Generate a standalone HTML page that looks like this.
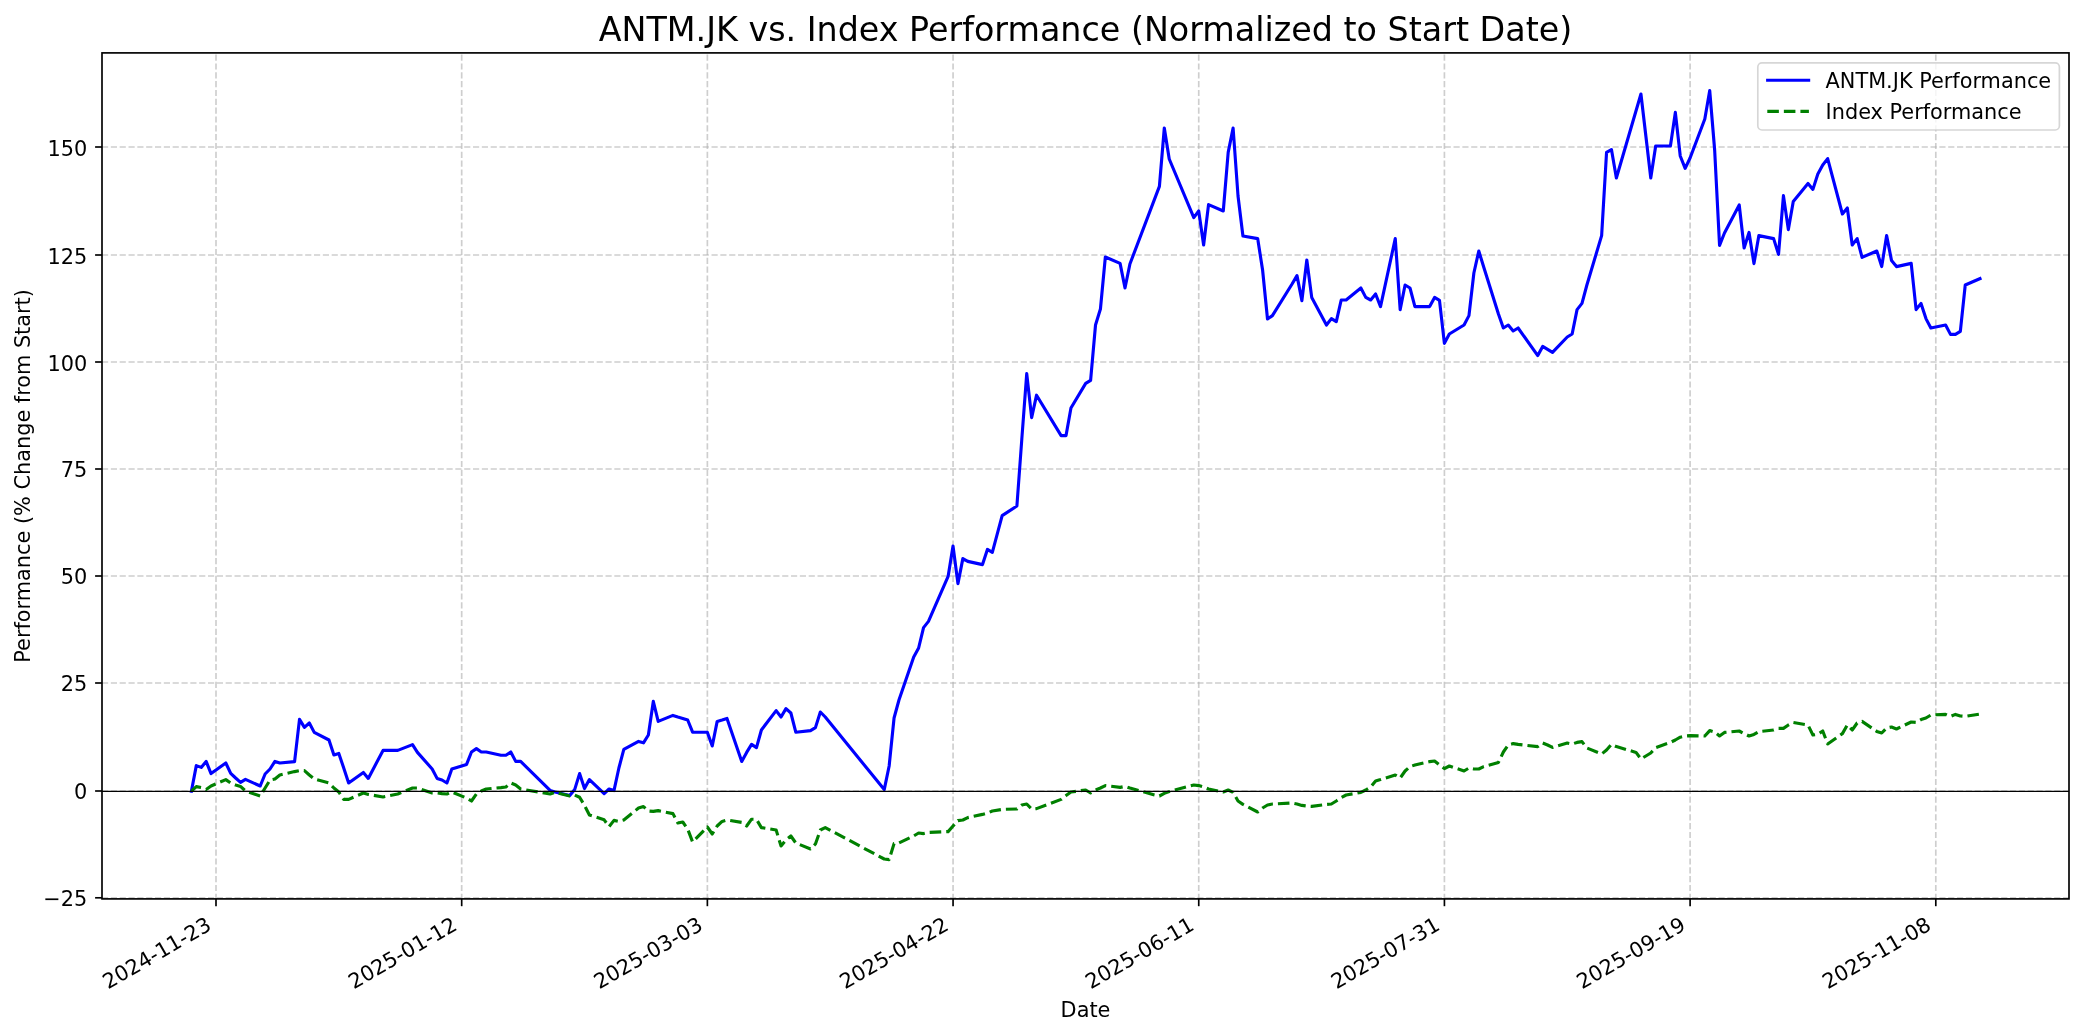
<!DOCTYPE html>
<html lang="en"><head><meta charset="utf-8"><title>ANTM.JK vs. Index Performance</title>
<style>html,body{margin:0;padding:0;background:#fff;}body{width:2084px;height:1035px;overflow:hidden;}svg{display:block;will-change:transform;}text{font-family:'DejaVu Sans','Liberation Sans',sans-serif;fill:#000;}</style>
</head><body>
<svg width="2084" height="1035" viewBox="0 0 2084 1035">
<rect x="0" y="0" width="2084" height="1035" fill="#ffffff"/>
<defs><clipPath id="ax"><rect x="102" y="52.9" width="1967" height="846"/></clipPath></defs>
<g clip-path="url(#ax)">
<path d="M216 898.9 V52.9" stroke-dashoffset="1.0" stroke="#b0b0b0" stroke-opacity="0.62" stroke-width="1.67" stroke-dasharray="6.1667 2.6667" fill="none"/>
<path d="M461.69 898.9 V52.9" stroke-dashoffset="1.0" stroke="#b0b0b0" stroke-opacity="0.62" stroke-width="1.67" stroke-dasharray="6.1667 2.6667" fill="none"/>
<path d="M707.37 898.9 V52.9" stroke-dashoffset="1.0" stroke="#b0b0b0" stroke-opacity="0.62" stroke-width="1.67" stroke-dasharray="6.1667 2.6667" fill="none"/>
<path d="M953.06 898.9 V52.9" stroke-dashoffset="1.0" stroke="#b0b0b0" stroke-opacity="0.62" stroke-width="1.67" stroke-dasharray="6.1667 2.6667" fill="none"/>
<path d="M1198.74 898.9 V52.9" stroke-dashoffset="1.0" stroke="#b0b0b0" stroke-opacity="0.62" stroke-width="1.67" stroke-dasharray="6.1667 2.6667" fill="none"/>
<path d="M1444.42 898.9 V52.9" stroke-dashoffset="1.0" stroke="#b0b0b0" stroke-opacity="0.62" stroke-width="1.67" stroke-dasharray="6.1667 2.6667" fill="none"/>
<path d="M1690.11 898.9 V52.9" stroke-dashoffset="1.0" stroke="#b0b0b0" stroke-opacity="0.62" stroke-width="1.67" stroke-dasharray="6.1667 2.6667" fill="none"/>
<path d="M1935.8 898.9 V52.9" stroke-dashoffset="1.0" stroke="#b0b0b0" stroke-opacity="0.62" stroke-width="1.67" stroke-dasharray="6.1667 2.6667" fill="none"/>
<path d="M102 897.8 H2069" stroke="#b0b0b0" stroke-opacity="0.62" stroke-width="1.67" stroke-dasharray="6.1667 2.6667" fill="none"/>
<path d="M102 791 H2069" stroke="#b0b0b0" stroke-opacity="0.62" stroke-width="1.67" stroke-dasharray="6.1667 2.6667" fill="none"/>
<path d="M102 683 H2069" stroke="#b0b0b0" stroke-opacity="0.62" stroke-width="1.67" stroke-dasharray="6.1667 2.6667" fill="none"/>
<path d="M102 576 H2069" stroke="#b0b0b0" stroke-opacity="0.62" stroke-width="1.67" stroke-dasharray="6.1667 2.6667" fill="none"/>
<path d="M102 469 H2069" stroke="#b0b0b0" stroke-opacity="0.62" stroke-width="1.67" stroke-dasharray="6.1667 2.6667" fill="none"/>
<path d="M102 362 H2069" stroke="#b0b0b0" stroke-opacity="0.62" stroke-width="1.67" stroke-dasharray="6.1667 2.6667" fill="none"/>
<path d="M102 255 H2069" stroke="#b0b0b0" stroke-opacity="0.62" stroke-width="1.67" stroke-dasharray="6.1667 2.6667" fill="none"/>
<path d="M102 147 H2069" stroke="#b0b0b0" stroke-opacity="0.62" stroke-width="1.67" stroke-dasharray="6.1667 2.6667" fill="none"/>
</g>
<g clip-path="url(#ax)" fill="none" stroke-linejoin="round">
<path d="M191.4 791.2 L196.31 765.6 L201.23 767.4 L206.14 761.4 L211.05 773.6 L225.8 763 L230.71 773.4 L235.62 778 L240.54 782.4 L245.45 779.4 L260.19 786 L265.11 774 L270.02 769 L274.93 761.4 L279.85 763 L294.59 761.6 L299.5 719.4 L304.42 727.4 L309.33 723 L314.24 732.4 L328.98 740 L333.9 755 L338.81 753.4 L343.72 768 L348.64 783 L363.38 772.4 L368.29 778.4 L383.03 750.4 L397.78 750.4 L412.52 744.6 L417.43 752.4 L432.17 769 L437.09 778.4 L442 780 L446.91 783 L451.83 769 L466.57 764.4 L471.48 752 L476.39 748.6 L481.31 752 L486.22 752 L500.96 755.2 L505.88 755.2 L510.79 752 L515.7 761.4 L520.62 761.4 L550.1 790.4 L555.01 792 L569.75 795.6 L574.67 789.6 L579.58 773.6 L584.5 788.6 L589.41 779.6 L604.15 793.6 L609.06 789 L613.98 790.6 L618.89 768 L623.81 749.4 L638.55 741.4 L643.46 742.8 L648.37 735 L653.29 701.4 L658.2 721.4 L672.94 715.4 L677.86 717 L682.77 718.4 L687.68 720 L692.6 732.2 L707.34 732.2 L712.25 746 L717.17 721.4 L722.08 720 L726.99 718.4 L741.73 761.4 L746.65 752.4 L751.56 744.4 L756.48 747.6 L761.39 730 L776.13 710.6 L781.04 717 L785.96 708.6 L790.87 713 L795.79 732.2 L810.53 730.6 L815.44 727.6 L820.35 712 L825.27 717 L884.23 789.6 L889.15 766 L894.06 718 L898.97 700 L913.71 657 L918.63 648 L923.54 627.6 L928.46 621.4 L948.11 576.4 L953.02 546 L957.94 583.6 L962.85 558.6 L967.76 561.4 L982.51 564.6 L987.42 549.4 L992.33 552.4 L1002.16 515.6 L1016.9 506 L1021.82 439 L1026.73 373.6 L1031.64 417.6 L1036.56 395.2 L1061.12 435.6 L1066.04 435.6 L1070.95 408 L1085.69 383.4 L1090.61 380.4 L1095.52 325 L1100.43 309 L1105.35 257 L1120.09 263.4 L1125 288 L1129.92 264 L1159.4 186.4 L1164.31 128 L1169.23 159 L1193.79 217.6 L1198.71 211 L1203.62 245 L1208.54 204.6 L1223.28 211 L1228.19 152.4 L1233.1 128 L1238.02 196 L1242.93 236 L1257.67 238.6 L1262.59 270 L1267.5 319 L1272.41 315.6 L1292.07 284 L1296.98 275.6 L1301.9 300.6 L1306.81 260 L1311.72 297.4 L1326.46 325 L1331.38 318.6 L1336.29 321.6 L1341.21 300 L1346.12 300 L1360.86 288 L1365.77 297.4 L1370.69 300 L1375.6 294 L1380.52 306.6 L1395.26 238.6 L1400.17 309.6 L1405.08 285 L1410 288 L1414.91 306.6 L1429.65 306.6 L1434.57 297.4 L1439.48 300.4 L1444.39 343.4 L1449.31 334 L1464.05 325 L1468.96 315.6 L1473.88 273 L1478.79 251 L1483.7 267 L1498.44 314 L1503.36 328 L1508.27 325 L1513.19 331 L1518.1 328 L1537.75 355.6 L1542.67 346.4 L1547.58 349.4 L1552.49 352.4 L1567.24 337 L1572.15 334 L1577.06 309.6 L1581.98 303.4 L1586.89 285 L1601.63 235.6 L1606.55 152.4 L1611.46 149.6 L1616.37 178 L1640.94 94 L1645.86 136 L1650.77 178 L1655.68 146 L1670.42 146 L1675.34 112.4 L1680.25 156 L1685.16 168.4 L1690.08 158 L1704.82 119 L1709.73 90.6 L1714.65 150 L1719.56 245.4 L1724.47 233 L1739.22 205 L1744.13 248 L1749.04 232.4 L1753.96 263.6 L1758.87 235.6 L1773.61 238.6 L1778.53 254.4 L1783.44 195.6 L1788.35 229.6 L1793.27 201.6 L1808.01 183.4 L1812.92 189.4 L1817.83 174 L1822.75 165 L1827.66 158.6 L1842.4 214 L1847.32 208 L1852.23 245 L1857.14 238.6 L1862.06 257.4 L1876.8 251 L1881.71 266.6 L1886.63 235.6 L1891.54 260.6 L1896.45 266.6 L1911.2 263.4 L1916.11 309.6 L1921.02 303.4 L1925.94 318.6 L1930.85 328 L1945.59 325 L1950.5 334.4 L1955.42 334.4 L1960.33 331.4 L1965.25 285 L1979.99 278.6" stroke="#0000ff" stroke-width="3.125" stroke-linecap="square"/>
<path d="M191.4 791.2 L196.31 786.6 L201.23 787.6 L206.14 789.6 L211.05 786 L225.8 779.6 L230.71 783 L235.62 785 L240.54 786.4 L245.45 791 L260.19 796 L265.11 788 L270.02 780 L274.93 779 L279.85 775 L294.59 771.6 L299.5 770.6 L304.42 770.6 L309.33 775 L314.24 779 L328.98 783 L333.9 788 L338.81 792 L343.72 799.4 L348.64 799.4 L363.38 793 L368.29 794.4 L383.03 797 L397.78 794 L412.52 788 L417.43 788 L432.17 793 L437.09 793 L442 793.6 L446.91 794 L451.83 792 L466.57 798 L471.48 801 L476.39 794 L481.31 791 L486.22 789 L500.96 787.6 L505.88 787 L510.79 783 L515.7 785 L520.62 789 L550.1 794 L555.01 792.4 L569.75 796 L574.67 795 L579.58 797.2 L584.5 805.4 L589.41 815 L604.15 819.8 L609.06 826.6 L613.98 820.4 L618.89 821.4 L623.81 820 L638.55 808 L643.46 806.6 L648.37 811 L653.29 811.4 L658.2 810.6 L672.94 813.6 L677.86 823 L682.77 822 L687.68 829 L692.6 842 L707.34 827 L712.25 834 L717.17 826 L722.08 821.4 L726.99 820 L741.73 822.4 L746.65 826 L751.56 819.2 L756.48 819.4 L761.39 827.6 L776.13 830 L781.04 846 L785.96 840 L790.87 836 L795.79 843 L810.53 849 L815.44 844 L820.35 830 L825.27 827.6 L884.23 859 L889.15 859.6 L894.06 843.6 L898.97 843 L913.71 836 L918.63 833 L923.54 833.6 L928.46 832.4 L948.11 831.6 L953.02 826 L957.94 820.6 L962.85 820 L967.76 817.6 L982.51 814.4 L987.42 813 L992.33 811 L1002.16 809.4 L1016.9 809 L1021.82 805 L1026.73 804 L1031.64 809 L1036.56 808.6 L1061.12 799.4 L1066.04 795.6 L1070.95 792 L1085.69 790 L1090.61 793 L1095.52 790 L1100.43 788 L1105.35 785.6 L1120.09 787.4 L1125 786.4 L1129.92 788 L1154.49 795 L1159.4 796 L1164.31 793.4 L1169.23 791.6 L1193.79 785 L1198.71 785.6 L1203.62 787 L1208.54 789 L1223.28 792 L1228.19 790 L1233.1 792.4 L1238.02 801 L1242.93 804.4 L1257.67 812 L1262.59 808 L1267.5 805 L1272.41 804 L1292.07 803 L1296.98 804 L1301.9 805.4 L1306.81 806 L1311.72 806.4 L1326.46 804.4 L1331.38 804 L1336.29 801 L1341.21 797.6 L1346.12 795 L1360.86 792.4 L1365.77 790 L1370.69 787 L1375.6 781 L1380.52 779.6 L1395.26 775 L1400.17 778 L1405.08 771 L1410 766.6 L1414.91 765 L1429.65 761.6 L1434.57 761 L1439.48 765 L1444.39 768.6 L1449.31 766 L1464.05 771 L1468.96 768 L1473.88 769 L1478.79 769 L1483.7 766.6 L1498.44 762.4 L1503.36 752 L1508.27 745 L1513.19 743.6 L1518.1 744.4 L1537.75 746.6 L1542.67 743 L1547.58 745 L1552.49 747.4 L1567.24 743 L1572.15 744 L1577.06 742.4 L1581.98 741.6 L1586.89 748 L1601.63 754 L1606.55 750 L1611.46 744.4 L1616.37 746.6 L1636.03 752.4 L1640.94 759 L1645.86 756 L1650.77 753 L1655.68 747.6 L1670.42 742.4 L1675.34 740 L1680.25 737.2 L1685.16 736 L1690.08 735.6 L1704.82 736 L1709.73 730.6 L1714.65 732 L1719.56 736 L1724.47 732.4 L1739.22 731 L1744.13 733.6 L1749.04 736 L1753.96 734.4 L1758.87 731.6 L1773.61 730 L1778.53 728.4 L1783.44 728.4 L1788.35 725 L1793.27 722.4 L1808.01 725 L1812.92 735 L1817.83 734.4 L1822.75 731 L1827.66 744 L1842.4 733.6 L1847.32 725 L1852.23 730 L1857.14 723 L1862.06 721.4 L1876.8 731.4 L1881.71 733 L1886.63 728 L1891.54 727 L1896.45 729 L1911.2 722 L1916.11 722.4 L1921.02 719.6 L1925.94 718 L1930.85 715 L1945.59 714.4 L1950.5 716.4 L1955.42 714.4 L1960.33 716 L1965.25 716.4 L1979.99 714" stroke="#008000" stroke-width="3.125" stroke-dasharray="11.56 5" stroke-linecap="butt"/>
</g>
<path d="M102 791.45 H2069" stroke="#000" stroke-width="1.2" clip-path="url(#ax)"/>
<rect x="102" y="52.9" width="1967" height="846" fill="none" stroke="#000" stroke-width="1.67" stroke-linejoin="miter"/>
<g stroke="#000" stroke-width="1.67">
<path d="M216 898.9 v7.3"/>
<path d="M461.69 898.9 v7.3"/>
<path d="M707.37 898.9 v7.3"/>
<path d="M953.06 898.9 v7.3"/>
<path d="M1198.74 898.9 v7.3"/>
<path d="M1444.42 898.9 v7.3"/>
<path d="M1690.11 898.9 v7.3"/>
<path d="M1935.8 898.9 v7.3"/>
<path d="M102 897.8 h-6.9"/>
<path d="M102 791 h-6.9"/>
<path d="M102 683 h-6.9"/>
<path d="M102 576 h-6.9"/>
<path d="M102 469 h-6.9"/>
<path d="M102 362 h-6.9"/>
<path d="M102 255 h-6.9"/>
<path d="M102 147 h-6.9"/>
</g>
<g font-size="20.83" text-anchor="end">
<text x="87.3" y="905.55">−25</text>
<text x="87.3" y="798.9">0</text>
<text x="87.3" y="691.05">25</text>
<text x="87.3" y="584.2">50</text>
<text x="87.3" y="477.35">75</text>
<text x="87.3" y="370.5">100</text>
<text x="87.3" y="263.65">125</text>
<text x="87.3" y="155.8">150</text>
</g>
<g font-size="20.83" text-anchor="end">
<text transform="translate(212.8 928.9) rotate(-30)">2024-11-23</text>
<text transform="translate(458.49 928.9) rotate(-30)">2025-01-12</text>
<text transform="translate(704.17 928.9) rotate(-30)">2025-03-03</text>
<text transform="translate(949.86 928.9) rotate(-30)">2025-04-22</text>
<text transform="translate(1195.54 928.9) rotate(-30)">2025-06-11</text>
<text transform="translate(1441.22 928.9) rotate(-30)">2025-07-31</text>
<text transform="translate(1686.91 928.9) rotate(-30)">2025-09-19</text>
<text transform="translate(1932.6 928.9) rotate(-30)">2025-11-08</text>
</g>
<text x="1085.5" y="1016.7" font-size="20.83" text-anchor="middle">Date</text>
<text transform="translate(30.1 475.9) rotate(-90)" font-size="20.83" text-anchor="middle">Performance (% Change from Start)</text>
<text x="1085.5" y="40.7" font-size="33.33" text-anchor="middle">ANTM.JK vs. Index Performance (Normalized to Start Date)</text>
<rect x="1757.8" y="62.9" width="301.6" height="67.1" rx="4.2" ry="4.2" fill="#fff" fill-opacity="0.8" stroke="#cccccc" stroke-opacity="0.8" stroke-width="1.67"/>
<path d="M1766.1 80.2 H1810.2" stroke="#0000ff" stroke-width="3.125"/>
<path d="M1767.3 111.4 H1808.9" stroke="#008000" stroke-width="3.125" stroke-dasharray="11.56 5"/>
<text x="1825.6" y="88" font-size="20.83">ANTM.JK Performance</text>
<text x="1825.6" y="118.8" font-size="20.83">Index Performance</text>
</svg>
</body></html>
